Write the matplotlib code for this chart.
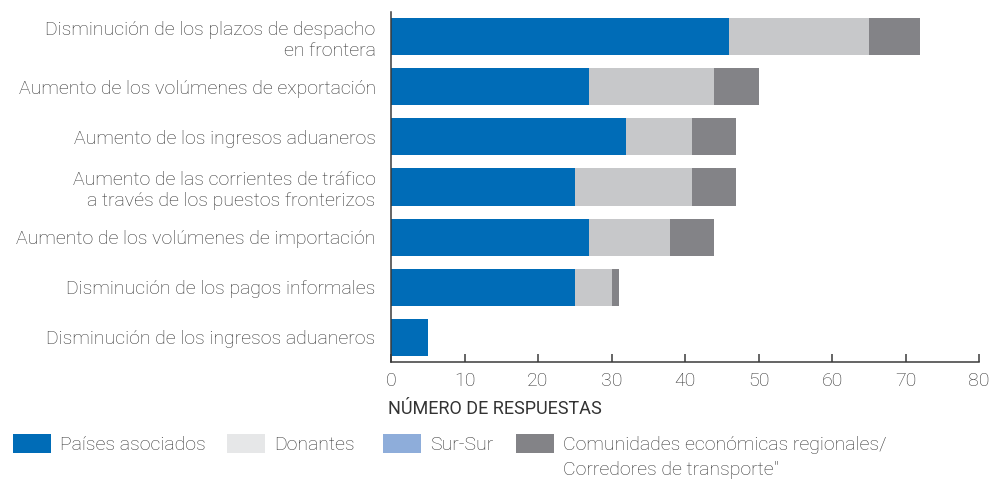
import matplotlib
matplotlib.use('Agg')
import matplotlib.pyplot as plt
from matplotlib.patches import Rectangle

plt.rcParams['font.family'] = ['Roboto', 'DejaVu Sans']
plt.rcParams['font.weight'] = 'light'

categorias = ['Disminución de los plazos de despacho\nen frontera',
              'Aumento de los volúmenes de exportación',
              'Aumento de los ingresos aduaneros',
              'Aumento de las corrientes de tráfico\na través de los puestos fronterizos',
              'Aumento de los volúmenes de importación',
              'Disminución de los pagos informales',
              'Disminución de los ingresos aduaneros']
paises = [46, 27, 32, 25, 27, 25, 5]
donantes = [19, 17, 9, 16, 11, 5, 0]
sur_sur = [0, 0, 0, 0, 0, 0, 0]
comunidades = [7, 6, 6, 6, 6, 1, 0]

series = ['Países asociados', 'Donantes', 'Sur-Sur',
          'Comunidades económicas regionales/\nCorredores de transporte"']
colores = ['#006cb7', '#c7c8ca', '#8eadda', '#838387']
colores_ley = ['#006cb7', '#e6e7e8', '#8eadda', '#838387']

fig = plt.figure(figsize=(9.92, 4.83), dpi=100)
ax = fig.add_axes([391/992, 1-362/483, 588/992, 350/483])

y = list(range(len(categorias)))
izq = [0]*len(y)
for vals, c in zip([paises, donantes, sur_sur, comunidades], colores):
    ax.barh(y, vals, left=izq, height=0.74, color=c, linewidth=0)
    izq = [a+b for a, b in zip(izq, vals)]

ax.set_ylim(6.49, -0.49)
ax.set_xlim(0, 80)
ax.set_xticks(range(0, 81, 10))
ax.set_yticks(y)
ax.set_yticklabels(categorias, fontsize=14, color='#333333', linespacing=1.25)
for s in ['top', 'right']:
    ax.spines[s].set_visible(False)
for s in ['left', 'bottom']:
    ax.spines[s].set_color('#3a3a3a')
    ax.spines[s].set_linewidth(1.1)
ax.tick_params(axis='y', length=0, pad=11)
ax.tick_params(axis='x', direction='in', length=6, width=1.1, color='#3a3a3a',
               labelsize=14, labelcolor='#333333', pad=7)
ax.set_xlabel('NÚMERO DE RESPUESTAS', fontsize=13, color='#333333')
ax.xaxis.set_label_coords(-0.005, -0.11)
ax.xaxis.label.set_horizontalalignment('left')

# leyenda
pos_x = [13, 227, 383, 516]
for px, lab, c in zip(pos_x, series, colores_ley):
    fig.add_artist(Rectangle((px/992, 1-453/483), 38/992, 19/483,
                             transform=fig.transFigure, color=c, linewidth=0))
    fig.text((px+47)/992, 1-436/483, lab, fontsize=14, color='#333333',
             va='top', linespacing=1.5)

fig.savefig('out.png', dpi=100)
